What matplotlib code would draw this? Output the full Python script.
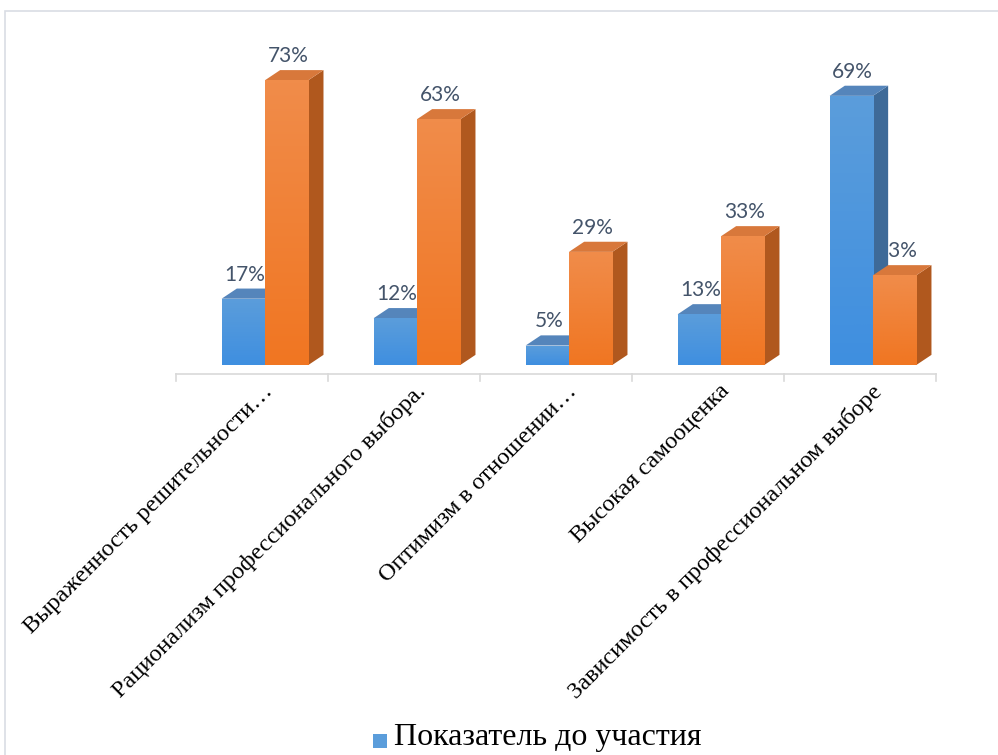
import numpy as np
import matplotlib.pyplot as plt
from matplotlib.colors import LinearSegmentedColormap
from matplotlib.patches import Polygon, Rectangle

# Данные диаграммы
categories = [
    'Выраженность решительности…',
    'Рационализм профессионального выбора.',
    'Оптимизм в отношении…',
    'Высокая самооценка',
    'Зависимость в профессиональном выборе',
]
before = [17, 12, 5, 13, 69]
after = [73, 63, 29, 33, 23]
series_names = ['Показатель до участия', 'Показатель после участия']

# Цвета граней: градиент фронта (верх, низ), верх, бок
blue = (('#5b9ddb', '#3f8fe0'), '#5585bb', '#3e6a98')
orange = (('#f08c4a', '#f07622'), '#d8783b', '#b0581e')

fig = plt.figure(figsize=(9.98, 7.55), dpi=100)

# рамка области диаграммы
frame = Rectangle((0.005, -0.1), 1.2, 1.085, transform=fig.transFigure,
                  fill=False, edgecolor='#d9dde4', linewidth=1.2)
fig.patches.append(frame)

ax = fig.add_axes([0.1764, 0.5046, 0.7615, 0.469])
ax.axis('off')

w = 0.285      # ширина фронта столбика
dx = 0.1       # глубина по x
dy = 2.6       # глубина по y
grad = np.linspace(0, 1, 64).reshape(-1, 1)


def bar3d(x0, h, cols, z):
    front, top, side = cols
    # боковая грань
    ax.add_patch(Polygon([(x0 + w, 0), (x0 + w + dx, dy), (x0 + w + dx, h + dy), (x0 + w, h)],
                         closed=True, facecolor=side, edgecolor='none', zorder=z))
    # верхняя грань
    ax.add_patch(Polygon([(x0, h), (x0 + dx, h + dy), (x0 + w + dx, h + dy), (x0 + w, h)],
                         closed=True, facecolor=top, edgecolor='none', zorder=z))
    # фронт с вертикальным градиентом
    bars = ax.bar(x0, h, width=w, align='edge', color=front[1], edgecolor='none', zorder=z + 0.5)
    cmap = LinearSegmentedColormap.from_list('f', [front[1], front[0]])
    im = ax.imshow(grad, cmap=cmap, extent=(x0, x0 + w, 0, h), origin='lower',
                   aspect='auto', zorder=z + 0.6, interpolation='bilinear')
    im.set_clip_path(bars[0])


for i, (b, a) in enumerate(zip(before, after)):
    xb = i - 0.2
    xa = xb + w
    bar3d(xb, b, blue, 3)
    bar3d(xa, a, orange, 4)
    ax.text(xb + w / 2 + 0.01, b + dy + 1.0, f'{b}%', ha='center', va='bottom',
            fontsize=15, color='#44546a', family='Lato', zorder=1)
    ax.text(xa + w / 2 + 0.01, a + dy + 1.0, f'{a}%', ha='center', va='bottom',
            fontsize=15, color='#44546a', family='Lato', zorder=1)

ax.set_xlim(-0.5, 4.5)
ax.set_ylim(-2.31, 88.46)

# ось категорий с делениями
ax.plot([-0.5, 4.5], [-2.31, -2.31], color='#d9d9d9', lw=1.2, clip_on=False, zorder=0)
for t in range(6):
    ax.plot([t - 0.5, t - 0.5], [-2.31, -4.2], color='#d9d9d9', lw=1.2, clip_on=False, zorder=0)

for i, name in enumerate(categories):
    ax.text(i + 0.07, -4.0, name, rotation=45, rotation_mode='anchor', ha='right', va='top',
            fontsize=17.5, family='Liberation Serif', color='black')

# легенда (видна только первая серия)
fig.patches.append(Rectangle((0.3735, 0.0093), 0.014, 0.019, transform=fig.transFigure,
                             facecolor=blue[0][0], edgecolor='none'))
fig.text(0.395, 0.0135, series_names[0], fontsize=23, family='Liberation Serif',
         va='baseline', ha='left')

fig.savefig('out.png', dpi=100)
